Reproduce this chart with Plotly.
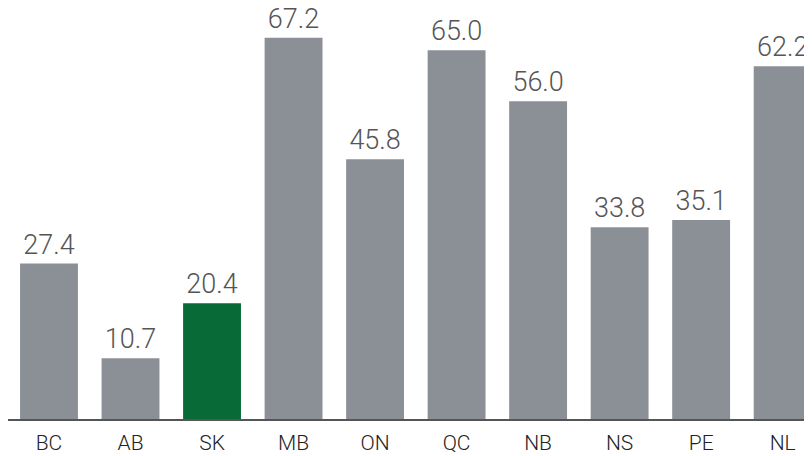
import plotly.graph_objects as go

provinces = ["BC", "AB", "SK", "MB", "ON", "QC", "NB", "NS", "PE", "NL"]
values = [27.4, 10.7, 20.4, 67.2, 45.8, 65.0, 56.0, 33.8, 35.1, 62.2]
highlight = "SK"

gray = "#8b8f96"
green = "#086a37"
colors = [green if p == highlight else gray for p in provinces]

fig = go.Figure(go.Bar(
    x=provinces, y=values,
    marker=dict(color=colors, line=dict(width=0)),
    text=[f"{v:.1f}" for v in values],
    textposition="outside",
    textfont=dict(family="Roboto", size=27, color="#555555", weight=300),
    cliponaxis=False,
))

# the page body adds an 8px margin, so the figure is a bit smaller than the window
fig.update_layout(
    width=804, height=448,
    margin=dict(l=0, r=0, t=6, b=37),
    paper_bgcolor="white", plot_bgcolor="white",
    bargap=0.29,
    showlegend=False,
    xaxis=dict(
        range=[-0.503, 9.36],
        showline=True, linecolor="#555555", linewidth=1.5,
        ticks="", showgrid=False, ticklabelstandoff=4,
        tickfont=dict(family="Roboto", size=21, color="#222222", weight=300),
    ),
    yaxis=dict(range=[0, 71.4], visible=False, showgrid=False),
)

fig.write_html("out.html")
